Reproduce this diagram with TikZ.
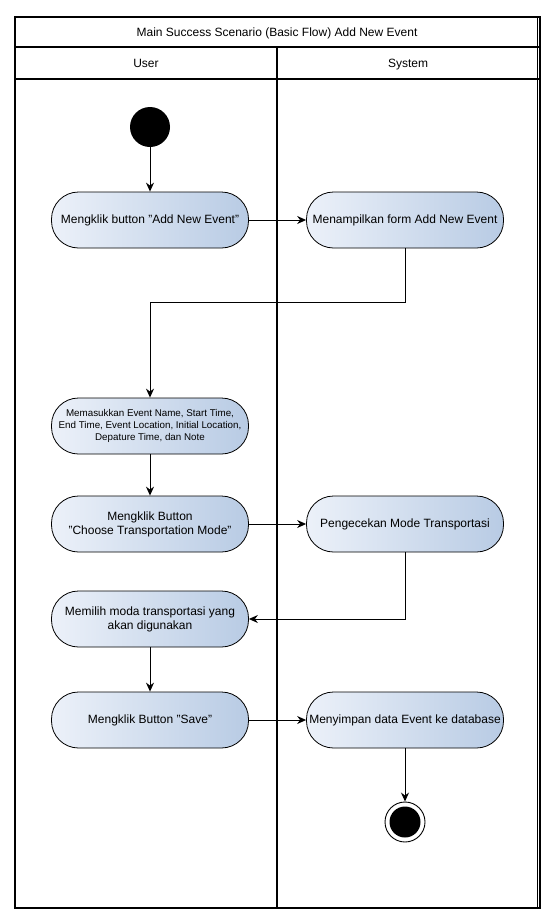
\documentclass[tikz,border=0pt]{standalone}
\usepackage{fontspec}
\setmainfont{Liberation Sans}
\usetikzlibrary{arrows.meta,positioning,calc}
\definecolor{cActL}{RGB}{236,241,249}
\definecolor{cActR}{RGB}{184,203,228}
\begin{document}
\begin{tikzpicture}[x=1pt,y=-1pt,
  act/.style={draw, line width=0.8pt, rounded corners=27pt, left color=cActL, right color=cActR,
              font=\fontsize{12}{14}\selectfont, align=center,
              minimum width=197pt, minimum height=56pt, inner sep=1pt},
  head/.style={font=\fontsize{12}{14}\selectfont, anchor=base},
  frame/.style={draw, line width=1.4pt},
  arr/.style={-{Stealth[length=9pt,width=8pt,inset=3pt]}, line width=0.9pt}]
\fill[white] (0,0) rectangle (554,924);
\useasboundingbox (0,0) rectangle (554,924);
% swimlane frame
\draw[frame] (15,17) rectangle (540,908);
\draw[line width=0.8pt] (537,17) -- (537,908);
\draw[frame] (15,47) -- (540,47);
\draw[frame] (15,79) -- (540,79);
\draw[line width=2pt] (277,47) -- (277,908);
\node[head] (title) at (277,36) {Main Success Scenario (Basic Flow) Add New Event};
\node[head] (user) at (146,67) {User};
\node[head] (system) at (408,67) {System};
% activities
\node[circle, fill=black, minimum size=40pt, inner sep=0pt] (start) at (150,127) {};
\node[act] (a1) at (150,220) {Mengklik button "Add New Event"};
\node[act] (s1) at (405,220) {Menampilkan form Add New Event};
\node[act, font=\fontsize{9.8}{11.8}\selectfont] (a2) at (150,426) {Memasukkan Event Name, Start Time,\\End Time, Event Location, Initial Location,\\Depature Time, dan Note};
\node[act] (a3) at (150,524) {Mengklik Button\\"Choose Transportation Mode"};
\node[act] (s2) at (405,524) {Pengecekan Mode Transportasi};
\node[act] (a4) at (150,619) {Memilih moda transportasi yang\\akan digunakan};
\node[act] (a5) at (150,720) {Mengklik Button "Save"};
\node[act] (s3) at (405,720) {Menyimpan data Event ke database};
\node[circle, draw, line width=0.9pt, fill=white, minimum size=40pt, inner sep=0pt] (stop) at (405,822) {};
\node[circle, fill=black, minimum size=31pt, inner sep=0pt] (stopdot) at (stop) {};
% flow
\draw[arr] (start) -- (a1);
\draw[arr] (a1) -- (s1);
\draw[arr] (s1.south) -- ++(0,54) -| (a2.north);
\draw[arr] (a2) -- (a3);
\draw[arr] (a3) -- (s2);
\draw[arr] (s2.south) |- (a4.east);
\draw[arr] (a4) -- (a5);
\draw[arr] (a5) -- (s3);
\draw[arr] (s3) -- (stop);
\end{tikzpicture}
\end{document}
